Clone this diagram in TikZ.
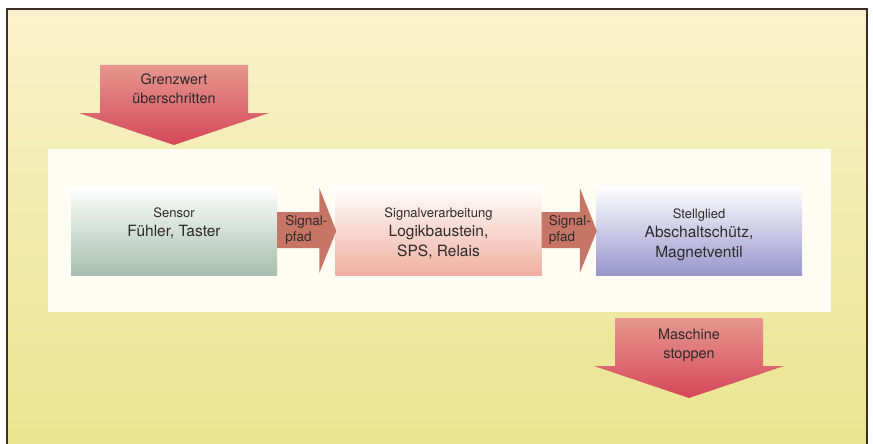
\documentclass[tikz,border=0pt]{standalone}
\usepackage{fontspec}
\setmainfont{TeX Gyre Heros}
\usetikzlibrary{calc, positioning}
\definecolor{frametop}{HTML}{F9F2CC}
\definecolor{framebot}{HTML}{EAE490}
\definecolor{frameline}{HTML}{3C2E28}
\definecolor{band}{HTML}{FFFDF3}
\definecolor{ink}{HTML}{2E2A2A}
\definecolor{redtop}{HTML}{E6978F}
\definecolor{redbot}{HTML}{D5475A}
\definecolor{sigfill}{HTML}{C77566}
\definecolor{sensorbot}{HTML}{A5BEAE}
\definecolor{procbot}{HTML}{F0AFA0}
\definecolor{actbot}{HTML}{9895CB}
\newcommand{\smallfont}{\fontsize{13}{19.5}\selectfont}

\begin{document}
\begin{tikzpicture}[x=1pt, y=-1pt]
\tikzstyle{block}=[minimum width=206pt, minimum height=89pt, inner sep=0pt, top color=white]
\tikzstyle{blocktext}=[inner sep=0pt, align=center, text=ink, font=\fontsize{15.5}{19.5}\selectfont]
\tikzstyle{pathtext}=[inner sep=0pt, align=left, text=ink, font=\fontsize{13.5}{16}\selectfont]
\tikzstyle{bigtext}=[inner sep=0pt, align=center, text=ink, font=\fontsize{14.4}{19}\selectfont]
\tikzstyle{bigarrow}=[top color=redtop, bottom color=redbot]

\useasboundingbox (0,0) rectangle (873,444);
% background
\shade[top color=frametop, bottom color=framebot] (7,9) rectangle (867,444);
\draw[frameline, line width=1.2pt] (7,444) -- (7,9) -- (867,9) -- (867,444);
\fill[band] (48,149) rectangle (831,312);

% blocks
\node[block, bottom color=sensorbot] (S) at (174,231) {};
\node[block, bottom color=procbot] (P) at (438.5,231) {};
\node[block, bottom color=actbot] (A) at (699,231) {};

\node[blocktext, below=21pt of S.north] (Stxt) {{\smallfont Sensor}\\Fühler, Taster};
\node[blocktext, below=21pt of P.north] (Ptxt) {{\smallfont Signalverarbeitung}\\Logikbaustein,\\SPS, Relais};
\node[blocktext, below=22pt of A.north] (Atxt) {{\smallfont Stellglied}\\Abschaltschütz,\\Magnetventil};

% signal paths
\fill[sigfill] ($(S.east)+(0,-19)$) -- ($(P.west)+(-16,-19)$) -- ($(P.west)+(-16,-43)$)
  -- ($(P.west)+(1,0)$) -- ($(P.west)+(-16,42)$) -- ($(P.west)+(-16,17)$) -- ($(S.east)+(0,17)$) -- cycle;
\fill[sigfill] ($(P.east)+(0,-19)$) -- ($(A.west)+(-16,-19)$) -- ($(A.west)+(-16,-43)$)
  -- ($(A.west)+(1,0)$) -- ($(A.west)+(-16,42)$) -- ($(A.west)+(-16,17)$) -- ($(P.east)+(0,17)$) -- cycle;
\node[pathtext, anchor=north west] (sig1) at ($(S.east)+(8,-16)$) {Signal-\\pfad};
\node[pathtext, anchor=north west] (sig2) at ($(P.east)+(7,-16)$) {Signal-\\pfad};

% in and out
\coordinate (gt) at (174,89);
\shade[bigarrow] ($(gt)+(-74,-24)$) -- ($(gt)+(74,-24)$) -- ($(gt)+(74,24)$) -- ($(gt)+(95,24)$)
  -- ($(gt)+(0,56)$) -- ($(gt)+(-95,24)$) -- ($(gt)+(-74,24)$) -- cycle;
\node[bigtext] (G) at (gt) {Grenzwert\\überschritten};

\coordinate (mt) at (689,342);
\shade[bigarrow] ($(mt)+(-74,-24)$) -- ($(mt)+(74,-24)$) -- ($(mt)+(74,24)$) -- ($(mt)+(95,24)$)
  -- ($(mt)+(0,56)$) -- ($(mt)+(-95,24)$) -- ($(mt)+(-74,24)$) -- cycle;
\node[bigtext] (M) at ($(mt)+(0,3)$) {Maschine\\stoppen};

\end{tikzpicture}
\end{document}
